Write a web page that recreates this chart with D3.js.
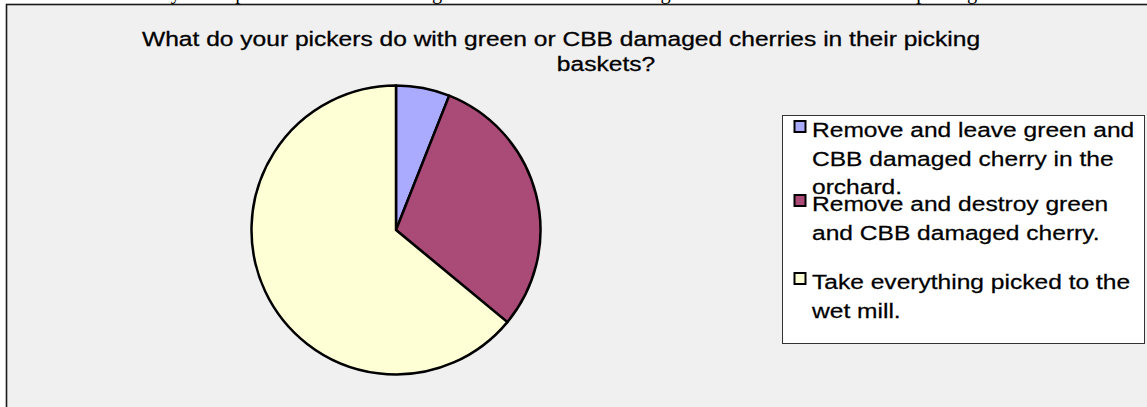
<!DOCTYPE html>
<html>
<head>
<meta charset="utf-8">
<script src="https://cdn.jsdelivr.net/npm/d3@7"></script>
<style>
  html, body { margin: 0; padding: 0; background: #ffffff; }
  svg { display: block; }
</style>
</head>
<body>
<svg id="chart" width="1147" height="407"></svg>
<script>
// Survey answers and their share of respondents
const categories = [
  "Remove and leave green and CBB damaged cherry in the orchard.",
  "Remove and destroy green and CBB damaged cherry.",
  "Take everything picked to the wet mill."
];
const legendLines = [
  ["Remove and leave green and", "CBB damaged cherry in the", "orchard."],
  ["Remove and destroy green", "and CBB damaged cherry."],
  ["Take everything picked to the", "wet mill."]
];
const values = [6, 30, 64];
const colors = ["#aaaaff", "#a94a77", "#ffffd6"];
const titleLines = [
  "What do your pickers do with green or CBB damaged cherries in their picking",
  "baskets?"
];
const captionText = "What do your pickers do with green or CBB damaged cherries in their picking baskets?";

const svg = d3.select("#chart");
const sans = "Liberation Sans, Arial, sans-serif";
const stretch = 1.17; // chart text is drawn slightly wide

// document caption line running above the chart frame
svg.append("text")
  .attr("x", 52).attr("y", -1)
  .attr("font-family", "Liberation Serif, Times New Roman, serif")
  .attr("font-size", 20.4)
  .attr("word-spacing", 22)
  .attr("fill", "#000")
  .text(captionText);

// chart frame
svg.append("rect")
  .attr("x", 6.5).attr("y", 4.5)
  .attr("width", 1160).attr("height", 420)
  .attr("fill", "#f0f0f0")
  .attr("stroke", "#1a1a1a")
  .attr("stroke-width", 1.6);

// title, wrapped over two lines
svg.append("g").selectAll("text").data(titleLines).join("text")
  .attr("transform", (d, i) => `translate(${i === 0 ? 142 : 606},${46 + i * 25}) scale(${stretch},1)`)
  .attr("text-anchor", (d, i) => i === 0 ? "start" : "middle")
  .attr("font-family", sans)
  .attr("font-size", 21)
  .attr("fill", "#000")
  .attr("stroke", "#000")
  .attr("stroke-width", 0.3)
  .text(d => d);

// pie
const cx = 396, cy = 230, r = 144.5;
const pie = d3.pie().sort(null).value(d => d);
const arc = d3.arc().innerRadius(0).outerRadius(r);
const g = svg.append("g").attr("transform", `translate(${cx},${cy})`);
g.selectAll("path").data(pie(values)).join("path")
  .attr("d", arc)
  .attr("fill", (d, i) => colors[i])
  .attr("stroke", "#000")
  .attr("stroke-width", 2.5)
  .attr("stroke-linejoin", "round");

// legend
const lx = 782, ly = 115, lw = 362, lh = 228;
svg.append("rect")
  .attr("x", lx + 0.5).attr("y", ly + 0.5)
  .attr("width", lw).attr("height", lh)
  .attr("fill", "#ffffff")
  .attr("stroke", "#333")
  .attr("stroke-width", 1);

const itemY = [137, 211, 289];
const lineGap = 28.5;
const items = svg.append("g").selectAll("g").data(categories).join("g");
items.append("rect")
  .attr("x", 794.5).attr("y", (d, i) => itemY[i] - 16)
  .attr("width", 11).attr("height", 11)
  .attr("fill", (d, i) => colors[i])
  .attr("stroke", "#000")
  .attr("stroke-width", 2);
items.selectAll("text")
  .data((d, i) => legendLines[i].map((t, j) => ({ t, y: itemY[i] + j * lineGap })))
  .join("text")
  .attr("transform", d => `translate(812,${d.y}) scale(${stretch},1)`)
  .attr("font-family", sans)
  .attr("font-size", 21)
  .attr("fill", "#000")
  .attr("stroke", "#000")
  .attr("stroke-width", 0.25)
  .text(d => d.t);
</script>
</body>
</html>
